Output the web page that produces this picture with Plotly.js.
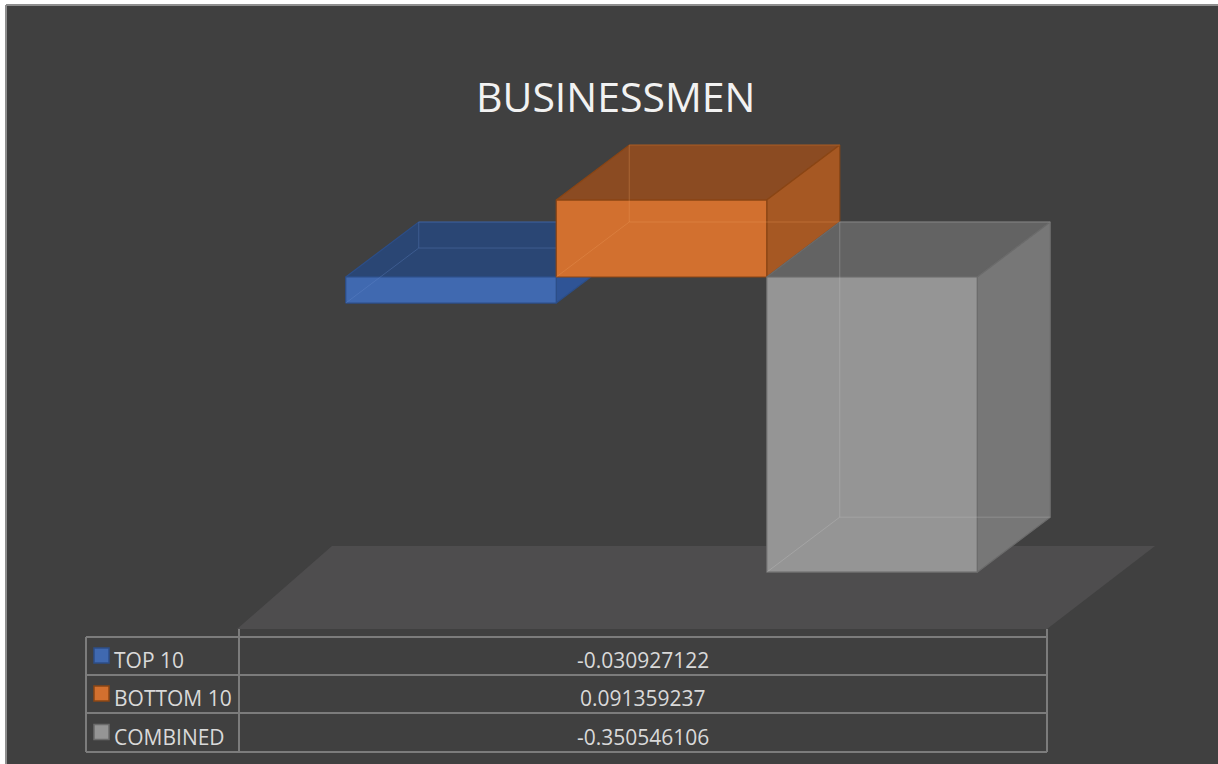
<!DOCTYPE html>
<html>
<head>
<meta charset="utf-8">
<script src="https://cdn.plot.ly/plotly-3.0.1.min.js"></script>
<style>
  html, body { margin: 0; padding: 0; background: #ffffff; }
  #chart { width: 1218px; height: 764px; }
</style>
</head>
<body>
<div id="chart"></div>
<script>
// data
var series = ['TOP 10', 'BOTTOM 10', 'COMBINED'];
var values = [-0.030927122, 0.091359237, -0.350546106];
var tableLabels = ['-0.030927122', '0.091359237', '-0.350546106'];

// colours per series: front, top, side, edge
var frontColors = ['#4069b0', '#d2702f', '#959595'];
var topColors = ['#2a4674', '#8b4b22', '#636363'];
var sideColors = ['#2f5496', '#a65823', '#777777'];
var edgeColors = ['#2c4e88', '#8a4514', '#6b6b6b'];

// pixel geometry of the picture
var W = 1218, H = 764;
var ML = 6, MT = 5;
var X0PX = 451, XSCALE = 210.5;   // category 0 centre, px per category
var Y0PX = 277, YSCALE = 842;     // value 0, px per unit
var DX = 73 / XSCALE, DY = 55 / YSCALE; // depth of the boxes

function px(x) { return (x - ML) / (W - ML); }
function py(y) { return (H - y) / (H - MT); }

var traces = [];

function poly(xs, ys, fill, line, lw) {
  traces.push({
    x: xs, y: ys, type: 'scatter', mode: 'lines', fill: 'toself',
    fillcolor: fill, line: {color: line, width: lw}, hoverinfo: 'skip', showlegend: false
  });
}

function seg(xs, ys, color) {
  traces.push({
    x: xs, y: ys, type: 'scatter', mode: 'lines',
    line: {color: color, width: 1}, opacity: 0.3, hoverinfo: 'skip', showlegend: false
  });
}

for (var i = 0; i < values.length; i++) {
  var v = values[i];
  var x0 = i - 0.5, x1 = i + 0.5;
  var lo = Math.min(0, v), hi = Math.max(0, v);
  var e = edgeColors[i];
  // top face
  poly([x0, x1, x1 + DX, x0 + DX, x0], [hi, hi, hi + DY, hi + DY, hi], topColors[i], e, 1.2);
  // side face
  poly([x1, x1, x1 + DX, x1 + DX, x1], [lo, hi, hi + DY, lo + DY, lo], sideColors[i], e, 1.2);
  // front face
  poly([x0, x1, x1, x0, x0], [lo, lo, hi, hi, lo], frontColors[i], e, 1.2);
  // hidden back edges, seen through the box
  var hid = i == 2 ? '#c8c8c8' : (i == 1 ? '#f0a060' : '#6a8fd0');
  seg([x0, x0 + DX, x0 + DX, x1 + DX], [lo, lo + DY, hi + DY, hi + DY], hid);
  seg([x0 + DX, x1 + DX], [lo + DY, lo + DY], hid);
}

var shapes = [];
var annotations = [];

// outer border
shapes.push({type: 'line', xref: 'paper', yref: 'paper', x0: 0, x1: 1, y0: 1, y1: 1,
  line: {color: '#8e8e8e', width: 2}});
shapes.push({type: 'line', xref: 'paper', yref: 'paper', x0: 0, x1: 0, y0: 0, y1: 1,
  line: {color: '#8e8e8e', width: 2}});

// floor
shapes.push({
  type: 'path', xref: 'paper', yref: 'paper', layer: 'below',
  path: 'M ' + px(237) + ',' + py(629) + ' L ' + px(1047) + ',' + py(629) +
        ' L ' + px(1155) + ',' + py(546) + ' L ' + px(332) + ',' + py(546) + ' Z',
  fillcolor: '#4e4d4e', line: {width: 0}
});

// data table
var tLeft = 86, tMid = 239, tRight = 1047;
var rowTops = [637, 675, 713, 752];
var gridColor = '#7c7c7c';
for (var r = 0; r < rowTops.length; r++) {
  shapes.push({type: 'line', xref: 'paper', yref: 'paper',
    x0: px(tLeft), x1: px(tRight), y0: py(rowTops[r]), y1: py(rowTops[r]),
    line: {color: gridColor, width: 2}});
}
shapes.push({type: 'line', xref: 'paper', yref: 'paper', x0: px(tLeft), x1: px(tLeft),
  y0: py(637), y1: py(752), line: {color: gridColor, width: 2}});
shapes.push({type: 'line', xref: 'paper', yref: 'paper', x0: px(tMid), x1: px(tMid),
  y0: py(629), y1: py(752), line: {color: gridColor, width: 2}});
shapes.push({type: 'line', xref: 'paper', yref: 'paper', x0: px(tRight), x1: px(tRight),
  y0: py(629), y1: py(752), line: {color: gridColor, width: 2}});

for (var k = 0; k < series.length; k++) {
  var mid = (rowTops[k] + rowTops[k + 1]) / 2;
  shapes.push({type: 'rect', xref: 'paper', yref: 'paper',
    x0: px(94), x1: px(109), y0: py(mid + 7), y1: py(mid - 8),
    fillcolor: frontColors[k], line: {color: edgeColors[k], width: 1.5}});
  annotations.push({xref: 'paper', yref: 'paper', x: px(112), y: py(mid + 4),
    xanchor: 'left', yanchor: 'middle', showarrow: false, text: series[k],
    font: {family: 'Open Sans', size: 21, color: '#d9d9d9'}});
  annotations.push({xref: 'paper', yref: 'paper', x: px((tMid + tRight) / 2), y: py(mid + 4),
    xanchor: 'center', yanchor: 'middle', showarrow: false, text: tableLabels[k],
    font: {family: 'Open Sans', size: 21, color: '#d9d9d9'}});
}

// title
annotations.push({xref: 'paper', yref: 'paper', x: px(615), y: py(96),
  xanchor: 'center', yanchor: 'middle', showarrow: false, text: 'BUSINESSMEN',
  font: {family: 'Open Sans', size: 41, color: '#f2f2f2'}});

var layout = {
  width: W, height: H,
  margin: {l: ML, r: 0, t: MT, b: 0, pad: 0},
  paper_bgcolor: '#ffffff',
  plot_bgcolor: '#404040',
  showlegend: false,
  xaxis: {range: [(ML - X0PX) / XSCALE, (W - X0PX) / XSCALE], visible: false, fixedrange: true},
  yaxis: {range: [(Y0PX - H) / YSCALE, (Y0PX - MT) / YSCALE], visible: false, fixedrange: true},
  shapes: shapes,
  annotations: annotations
};

Plotly.newPlot('chart', traces, layout, {displayModeBar: false, staticPlot: true});
</script>
</body>
</html>
